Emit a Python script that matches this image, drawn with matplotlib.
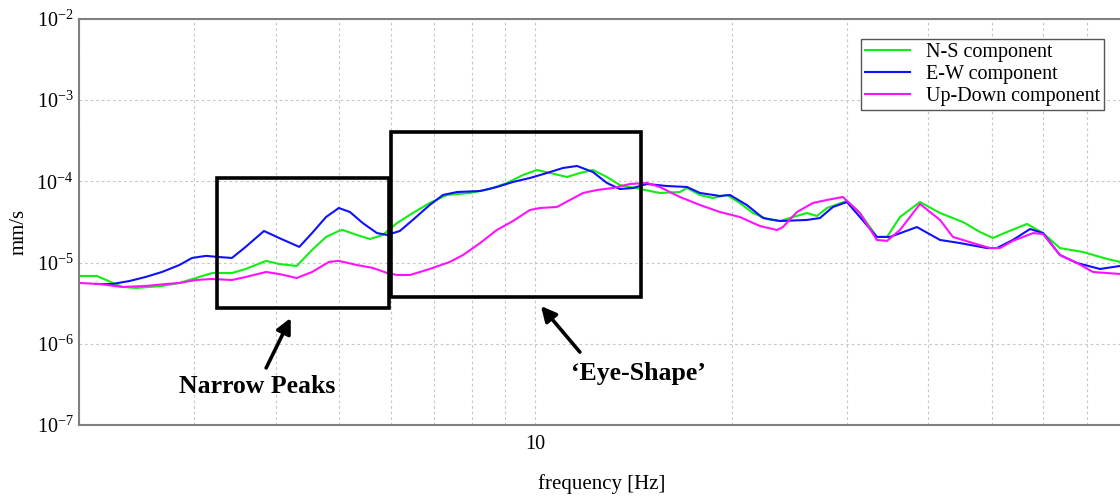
#!/usr/bin/env python

import math
import matplotlib
matplotlib.use("Agg")
import matplotlib.pyplot as plt
from matplotlib.patches import Rectangle
from matplotlib.ticker import FixedLocator, FuncFormatter, NullFormatter

plt.rcParams['font.family'] = ['Liberation Serif', 'DejaVu Serif']
plt.rcParams['mathtext.fontset'] = 'custom'
plt.rcParams['mathtext.rm'] = 'Liberation Serif'

# spectral amplitude of each component, [Hz] -> [mm/s]
ns_freq = [2.00, 2.13, 2.33, 2.45, 2.68, 2.85, 3.02, 3.20, 3.43, 3.60, 3.87, 4.05, 4.31, 4.55,
           4.78, 5.00, 5.07, 5.33, 5.58, 5.84, 6.14, 6.49, 6.89, 7.32, 7.94, 8.52, 9.05, 9.57,
           10.06, 10.53, 11.18, 11.70, 12.25, 12.87, 13.47, 14.46, 15.51, 16.65, 17.07, 17.87,
           18.70, 19.65, 20.57, 21.54, 22.63, 23.69, 24.80, 26.06, 27.00, 27.96, 30.00, 31.41,
           33.34, 34.56, 36.17, 38.82, 41.66, 45.17, 47.96, 50.21, 52.74, 56.62, 59.90, 63.58,
           68.97, 75.07, 78.58]
ns_amp = [6.84e-6, 6.84e-6, 5.01e-6, 4.87e-6, 5.15e-6, 5.61e-6, 6.46e-6, 7.44e-6, 7.44e-6,
          8.34e-6, 1.05e-5, 9.61e-6, 9.08e-6, 1.43e-5, 2.07e-5, 2.45e-5, 2.52e-5, 2.19e-5,
          1.95e-5, 2.19e-5, 3.07e-5, 4.08e-5, 5.42e-5, 6.80e-5, 7.20e-5, 8.06e-5, 9.56e-5,
          1.199e-4, 1.382e-4, 1.269e-4, 1.133e-4, 1.269e-4, 1.382e-4, 1.133e-4, 9.03e-5,
          8.06e-5, 7.20e-5, 7.40e-5, 8.29e-5, 6.80e-5, 6.25e-5, 6.80e-5, 5.42e-5, 4.08e-5,
          3.44e-5, 3.25e-5, 3.64e-5, 4.08e-5, 3.75e-5, 4.70e-5, 5.74e-5, 4.08e-5, 2.07e-5,
          2.07e-5, 3.64e-5, 5.57e-5, 4.08e-5, 3.16e-5, 2.38e-5, 2.01e-5, 2.38e-5, 2.99e-5,
          2.31e-5, 1.51e-5, 1.35e-5, 1.11e-5, 1.02e-5]

ew_freq = [2.12, 2.25, 2.39, 2.53, 2.68, 2.85, 2.98, 3.13, 3.28, 3.43, 3.60, 3.84, 4.05, 4.35,
           4.55, 4.78, 5.00, 5.20, 5.44, 5.72, 5.93, 6.20, 6.49, 6.89, 7.22, 7.59, 8.23, 8.73,
           9.24, 9.81, 10.42, 11.02, 11.58, 12.25, 12.87, 13.47, 14.11, 14.82, 15.90, 17.07,
           17.87, 19.17, 19.86, 21.08, 22.32, 23.69, 26.06, 27.28, 28.56, 30.00, 31.41, 33.34,
           34.92, 38.40, 41.66, 44.70, 49.16, 50.92, 53.87, 57.22, 59.90, 63.58, 67.53, 73.24,
           78.58]
ew_amp = [5.45e-6, 5.45e-6, 5.93e-6, 6.65e-6, 7.66e-6, 9.34e-6, 1.14e-5, 1.21e-5, 1.17e-5,
          1.14e-5, 1.56e-5, 2.45e-5, 2.01e-5, 1.56e-5, 2.31e-5, 3.64e-5, 4.70e-5, 4.20e-5,
          3.07e-5, 2.31e-5, 2.19e-5, 2.45e-5, 3.35e-5, 5.12e-5, 6.80e-5, 7.40e-5, 7.61e-5,
          8.53e-5, 9.83e-5, 1.101e-4, 1.269e-4, 1.462e-4, 1.548e-4, 1.305e-4, 9.56e-5,
          8.06e-5, 8.29e-5, 9.29e-5, 8.77e-5, 8.53e-5, 7.20e-5, 6.61e-5, 6.80e-5, 5.12e-5,
          3.54e-5, 3.25e-5, 3.35e-5, 3.54e-5, 4.84e-5, 5.57e-5, 3.64e-5, 2.07e-5, 2.07e-5,
          2.74e-5, 1.90e-5, 1.74e-5, 1.51e-5, 1.51e-5, 1.90e-5, 2.59e-5, 2.31e-5, 1.24e-5,
          9.89e-6, 8.34e-6, 9.08e-6]

ud_freq = [2.00, 2.15, 2.33, 2.53, 2.72, 2.85, 3.02, 3.20, 3.43, 3.60, 3.87, 4.05, 4.31, 4.55,
           4.83, 5.00, 5.33, 5.64, 5.93, 6.14, 6.43, 6.89, 7.40, 7.75, 8.23, 8.73, 9.24, 9.81,
           10.16, 10.79, 11.30, 11.83, 12.43, 13.15, 13.96, 14.82, 15.51, 16.65, 17.87, 19.17,
           20.57, 22.08, 23.44, 23.94, 25.16, 26.61, 27.96, 29.58, 31.41, 33.34, 34.56, 36.17,
           38.82, 41.66, 43.60, 46.78, 49.69, 51.46, 53.87, 57.83, 59.90, 63.58, 67.53, 71.44,
           78.58]
ud_amp = [5.61e-6, 5.45e-6, 5.01e-6, 5.15e-6, 5.45e-6, 5.61e-6, 6.10e-6, 6.28e-6, 6.10e-6,
          6.65e-6, 7.66e-6, 7.24e-6, 6.46e-6, 7.66e-6, 1.02e-5, 1.05e-5, 9.34e-6, 8.58e-6,
          7.44e-6, 7.04e-6, 7.04e-6, 8.34e-6, 1.02e-5, 1.24e-5, 1.74e-5, 2.52e-5, 3.25e-5,
          4.44e-5, 4.70e-5, 4.84e-5, 5.90e-5, 7.20e-5, 7.83e-5, 8.29e-5, 9.29e-5, 9.56e-5,
          8.53e-5, 6.43e-5, 5.12e-5, 4.20e-5, 3.64e-5, 2.82e-5, 2.52e-5, 2.74e-5, 4.20e-5,
          5.42e-5, 5.90e-5, 6.43e-5, 4.08e-5, 1.90e-5, 1.85e-5, 2.52e-5, 5.27e-5, 3.35e-5,
          2.07e-5, 1.74e-5, 1.51e-5, 1.51e-5, 1.85e-5, 2.31e-5, 2.25e-5, 1.24e-5, 9.89e-6,
          7.66e-6, 7.24e-6]

# highlighted regions: (f_min, f_max, amp_min, amp_max)
narrow_box = (3.25, 5.97, 2.76e-6, 1.10e-4)
eye_box = (6.0, 14.5, 3.77e-6, 4.06e-4)

y_ticks = [1e-7, 1e-6, 1e-5, 1e-4, 1e-3, 1e-2]
x_ticks = [10]


def pow10_label(v, pos):
    return r'$\mathregular{10^{%d}}$' % round(math.log10(v))


fig = plt.figure(figsize=(11.2, 4.97), dpi=100)
ax = fig.add_axes([0.0705, 0.1449, 0.934, 0.8169])
ax.set_xscale('log')
ax.set_yscale('log')

ax.plot(ns_freq, ns_amp, color='#11ee11', lw=1.5, label='N-S component')
ax.plot(ew_freq, ew_amp, color='#1010ff', lw=1.5, label='E-W component')
ax.plot(ud_freq, ud_amp, color='#ff11ff', lw=1.5, label='Up-Down component')

ax.set_xlim(2, 80)
ax.set_ylim(1e-7, 1e-2)

ax.yaxis.set_major_locator(FixedLocator(y_ticks))
ax.yaxis.set_major_formatter(FuncFormatter(pow10_label))
ax.yaxis.set_minor_locator(FixedLocator([]))
ax.yaxis.set_minor_formatter(NullFormatter())
ax.xaxis.set_major_locator(FixedLocator(x_ticks))
ax.xaxis.set_major_formatter(FuncFormatter(lambda v, pos: '%g' % v))
ax.xaxis.set_minor_formatter(NullFormatter())

ax.tick_params(which='both', length=0, labelsize=14.5)
ax.tick_params(axis='x', pad=7)
ax.tick_params(axis='y', pad=4)

ax.grid(which='major', color='#c8c8c8', ls=(0, (2.5, 2.5)), lw=0.8)
ax.grid(which='minor', axis='x', color='#c8c8c8', ls=(0, (2.5, 2.5)), lw=0.8)

for side in ['left', 'bottom', 'top']:
    ax.spines[side].set_color('#808080')
    ax.spines[side].set_linewidth(1.5)
ax.spines['right'].set_visible(False)

ax.set_xlabel('frequency [Hz]', fontsize=15, labelpad=15)
fig.text(0.017, 0.533, 'mm/s', rotation=90, fontsize=15, ha='center', va='center')

# boxes around the features of interest
for f0, f1, a0, a1 in [narrow_box, eye_box]:
    ax.add_patch(Rectangle((f0, a0), f1 - f0, a1 - a0, fill=False,
                           ec='black', lw=2.6, zorder=5))

arrow = dict(arrowstyle='-|>,head_length=0.9,head_width=0.45', lw=2.6,
             color='black', shrinkA=0, shrinkB=0)
ax.annotate('', xy=(4.22, 2.08e-6), xytext=(3.87, 5.04e-7), arrowprops=arrow)
ax.annotate('', xy=(10.2, 2.92e-6), xytext=(11.7, 7.9e-7), arrowprops=arrow)
ax.text(3.75, 3.0e-7, 'Narrow Peaks', fontsize=18.5, fontweight='bold',
        ha='center', va='center')
ax.text(14.4, 4.36e-7, '\u2018Eye-Shape\u2019', fontsize=18.5, fontweight='bold',
        ha='center', va='center')

leg = ax.legend(loc='upper right', bbox_to_anchor=(1104 / 1120, 1 - 39 / 497),
                bbox_transform=fig.transFigure, borderaxespad=0, fontsize=14.5,
                fancybox=False, framealpha=1, edgecolor='#555555',
                handlelength=2.2, handletextpad=0.8, labelspacing=0.15,
                borderpad=0.2)
leg.get_frame().set_linewidth(1.0)

fig.savefig('out.png', dpi=100)
